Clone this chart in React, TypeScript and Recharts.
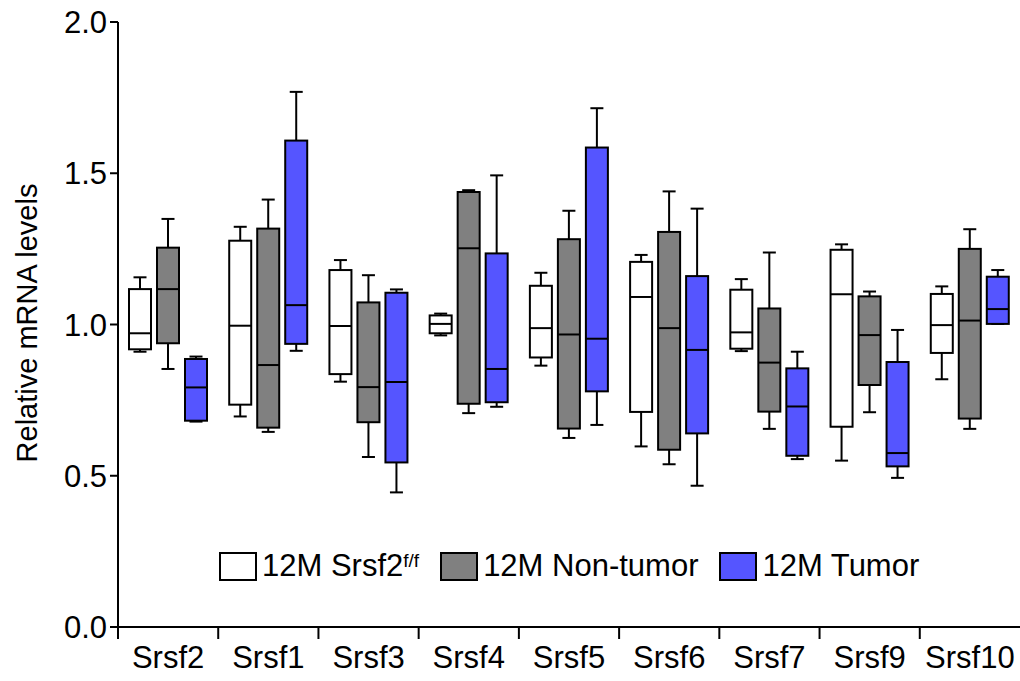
import React from 'react';
import { ComposedChart, Bar, XAxis, YAxis, Legend } from 'recharts';

// box stats per gene: [min, q1, median, q3, max]
const GENES = ['Srsf2', 'Srsf1', 'Srsf3', 'Srsf4', 'Srsf5', 'Srsf6', 'Srsf7', 'Srsf9', 'Srsf10'];

const WT = [
  [0.91, 0.918, 0.971, 1.117, 1.156],
  [0.696, 0.735, 0.996, 1.277, 1.323],
  [0.811, 0.836, 0.995, 1.18, 1.213],
  [0.964, 0.971, 1.002, 1.03, 1.036],
  [0.864, 0.891, 0.988, 1.128, 1.171],
  [0.597, 0.711, 1.091, 1.207, 1.23],
  [0.912, 0.92, 0.974, 1.115, 1.15],
  [0.55, 0.662, 1.1, 1.247, 1.265],
  [0.819, 0.906, 0.998, 1.101, 1.126],
];

const NON_TUMOR = [
  [0.853, 0.938, 1.117, 1.254, 1.349],
  [0.645, 0.659, 0.866, 1.317, 1.413],
  [0.562, 0.677, 0.793, 1.073, 1.163],
  [0.707, 0.738, 1.252, 1.438, 1.444],
  [0.625, 0.656, 0.967, 1.282, 1.376],
  [0.538, 0.586, 0.988, 1.306, 1.44],
  [0.655, 0.712, 0.874, 1.053, 1.238],
  [0.71, 0.8, 0.965, 1.093, 1.109],
  [0.655, 0.689, 1.013, 1.25, 1.315],
];

const TUMOR = [
  [0.679, 0.682, 0.792, 0.886, 0.894],
  [0.913, 0.936, 1.064, 1.608, 1.769],
  [0.445, 0.544, 0.81, 1.105, 1.116],
  [0.728, 0.743, 0.853, 1.235, 1.493],
  [0.668, 0.779, 0.953, 1.585, 1.715],
  [0.467, 0.64, 0.916, 1.16, 1.383],
  [0.555, 0.566, 0.729, 0.855, 0.91],
  [0.493, 0.531, 0.575, 0.876, 0.982],
  [1.002, 1.002, 1.051, 1.158, 1.18],
];

const Y_TICKS = [0, 0.5, 1, 1.5, 2];

const GROUPS = [
  { key: 'wt', label: '12M Srsf2', sup: 'f/f', color: '#FFFFFF' },
  { key: 'nt', label: '12M Non-tumor', sup: '', color: '#808080' },
  { key: 'tu', label: '12M Tumor', sup: '', color: '#5555FF' },
];

const data = GENES.map((gene, i) => ({ gene, wt: WT[i], nt: NON_TUMOR[i], tu: TUMOR[i] }));

const FONT = '"Liberation Sans", Arial, sans-serif';

const BoxShape = (props: any) => {
  const { x, y, width, height, stats, fill } = props;
  const [lo, q1, med, q3, hi] = stats;
  const py = (v: number) => y + ((hi - v) / (hi - lo)) * height;
  const cx = x + width / 2;
  const cap = 6.5;
  const s = { stroke: '#000', strokeWidth: 2 };
  return (
    <g>
      <line x1={cx} x2={cx} y1={py(hi)} y2={py(q3)} {...s} />
      <line x1={cx - cap} x2={cx + cap} y1={py(hi)} y2={py(hi)} {...s} />
      <line x1={cx} x2={cx} y1={py(q1)} y2={py(lo)} {...s} />
      <line x1={cx - cap} x2={cx + cap} y1={py(lo)} y2={py(lo)} {...s} />
      <rect x={x} y={py(q3)} width={width} height={py(q1) - py(q3)} fill={fill} {...s} />
      <line x1={x} x2={x + width} y1={py(med)} y2={py(med)} {...s} />
    </g>
  );
};

// gene label plus a small tick at the left edge of each category band
const GeneTick = (props: any) => {
  const { x, y, payload } = props;
  const edge = x - (payload.offset || 0);
  return (
    <g>
      <line x1={edge} x2={edge} y1={y} y2={y + 12} stroke="#000" strokeWidth={2} />
      <text x={x} y={y + 19} dy="0.71em" textAnchor="middle" fontFamily={FONT} fontSize={31} fill="#000">
        {payload.value}
      </text>
    </g>
  );
};

const renderLegend = () => (
  <div style={{ display: 'flex', alignItems: 'center', fontFamily: FONT, fontSize: 31, color: '#000', whiteSpace: 'nowrap' }}>
    {GROUPS.map(g => (
      <div key={g.key} style={{ display: 'flex', alignItems: 'center', marginRight: 21 }}>
        <div style={{ width: 38, height: 29, boxSizing: 'border-box', border: '2px solid #000', background: g.color }} />
        <span style={{ marginLeft: 5, lineHeight: '30px' }}>
          {g.label}
          {g.sup && <sup style={{ fontSize: 19, verticalAlign: 'top', position: 'relative', top: -5 }}>{g.sup}</sup>}
        </span>
      </div>
    ))}
  </div>
);

const YLabel = () => (
  <text x={27} y={323} transform="rotate(-90, 27, 323)" textAnchor="middle" dominantBaseline="central"
    fontFamily={FONT} fontSize={29} fill="#000">
    Relative mRNA levels
  </text>
);

export default function App() {
  return (
    <div style={{ position: 'absolute', left: 0, top: 0, width: 1020, height: 681, background: '#fff' }}>
      <ComposedChart width={1020} height={681} data={data} margin={{ top: 22, right: 0, bottom: 0, left: 0 }}
        barSize={22} barGap={6}>
        <XAxis dataKey="gene" height={54} tickLine={false} tickSize={0} tickMargin={0}
          axisLine={{ stroke: '#000', strokeWidth: 2 }} tick={<GeneTick />} interval={0} />
        <YAxis domain={[0, 2]} ticks={Y_TICKS} width={118} tickSize={8} tickMargin={3}
          tickFormatter={(v: number) => v.toFixed(1)}
          axisLine={{ stroke: '#000', strokeWidth: 2 }} tickLine={{ stroke: '#000', strokeWidth: 2 }}
          tick={{ fill: '#000', fontSize: 31, fontFamily: FONT }}
          label={<YLabel />} />
        {GROUPS.map(g => (
          <Bar key={g.key} dataKey={(d: any) => [d[g.key][0], d[g.key][4]]} name={g.label}
            fill={g.color} isAnimationActive={false}
            shape={(p: any) => <BoxShape {...p} stats={p.payload[g.key]} fill={g.color} />} />
        ))}
        <Legend content={renderLegend} layout="horizontal" verticalAlign="middle" align="center"
          wrapperStyle={{ left: 219, top: 551, width: 'auto' }} />
      </ComposedChart>
    </div>
  );
}
